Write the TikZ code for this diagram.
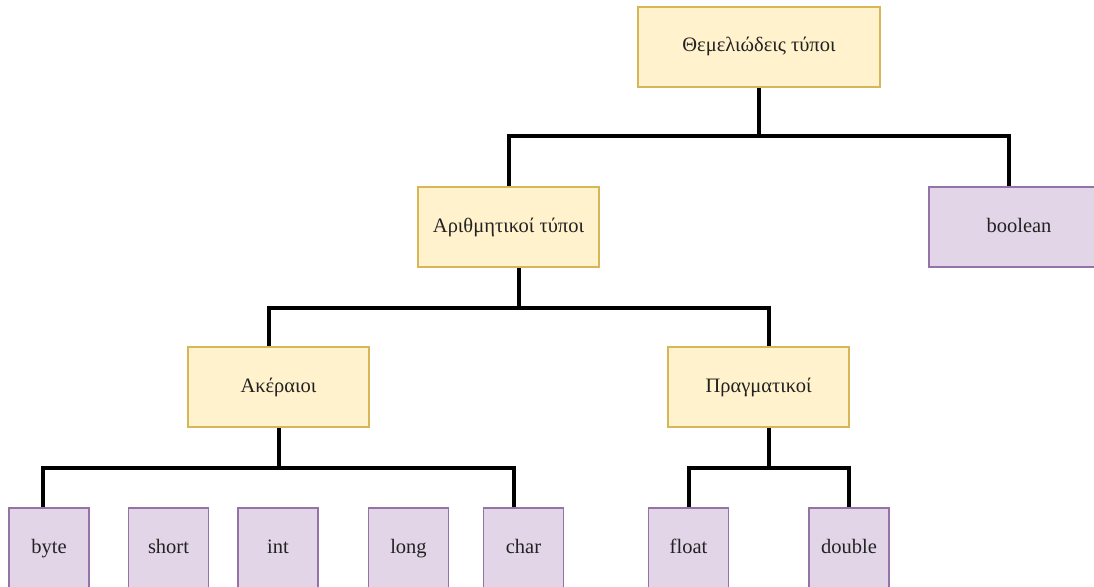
\documentclass[tikz,border=0pt]{standalone}
\usepackage{fontspec}
\setmainfont{Liberation Serif}
\usetikzlibrary{calc}
\definecolor{yfill}{HTML}{FFF2CC}
\definecolor{ydraw}{HTML}{D6B656}
\definecolor{pfill}{HTML}{E1D5E7}
\definecolor{pdraw}{HTML}{9673A6}
\definecolor{txt}{HTML}{222222}
\tikzset{
  ybox/.style={draw=ydraw, fill=yfill, line width=1.5pt, minimum width=181pt, minimum height=80pt, inner sep=0pt, text=txt, text height=14pt, text depth=4pt, font=\fontsize{20.5}{22}\selectfont},
  pbox/.style={draw=pdraw, fill=pfill, line width=1.5pt, minimum width=80pt, minimum height=80pt, inner sep=0pt, text=txt, text height=14pt, text depth=4pt, font=\fontsize{20.5}{22}\selectfont},
  conn/.style={draw=black, line width=4pt}
}
\begin{document}
\begin{tikzpicture}[x=1pt,y=-1pt]
\useasboundingbox (0,0) rectangle (1094,586);
\clip (0,0) rectangle (1094,586);
\coordinate (bar1) at (0,136);
\coordinate (bar2) at (0,308);
\coordinate (bar3) at (0,468);
% nodes
\node[ybox, minimum width=242pt] (them) at (759,47) {Θεμελιώδεις τύποι};
\node[ybox] (arith) at (508.5,227) {Αριθμητικοί τύποι};
\node[pbox, minimum width=180pt] (bool) at (1019,227) {boolean};
\node[ybox] (aker) at (278.5,387) {Ακέραιοι};
\node[ybox] (pragm) at (758.5,387) {Πραγματικοί};
\node[pbox] (byte) at (49,548) {byte};
\node[pbox] (short) at (168.5,548) {short};
\node[pbox] (int) at (278,548) {int};
\node[pbox] (long) at (408.5,548) {long};
\node[pbox] (char) at (523.5,548) {char};
\node[pbox] (float) at (688.5,548) {float};
\node[pbox] (double) at (849,548) {double};
% connectors
\draw[conn] (them.south) -- (them.south |- bar1) -| (arith.north);
\draw[conn] (them.south |- bar1) -| ([xshift=-10pt]bool.north);
\draw[conn] ([xshift=10pt]arith.south) -- ([xshift=10pt]arith.south |- bar2) -| ([xshift=-10pt]aker.north);
\draw[conn] ([xshift=10pt]arith.south |- bar2) -| ([xshift=10pt]pragm.north);
\draw[conn] (aker.south) -- (aker.south |- bar3) -| ([xshift=-6pt]byte.north);
\draw[conn] (aker.south |- bar3) -| ([xshift=-9.5pt]char.north);
\draw[conn] ([xshift=10pt]pragm.south) -- ([xshift=10pt]pragm.south |- bar3) -| (float.north);
\draw[conn] ([xshift=10pt]pragm.south |- bar3) -| (double.north);
\end{tikzpicture}
\end{document}
